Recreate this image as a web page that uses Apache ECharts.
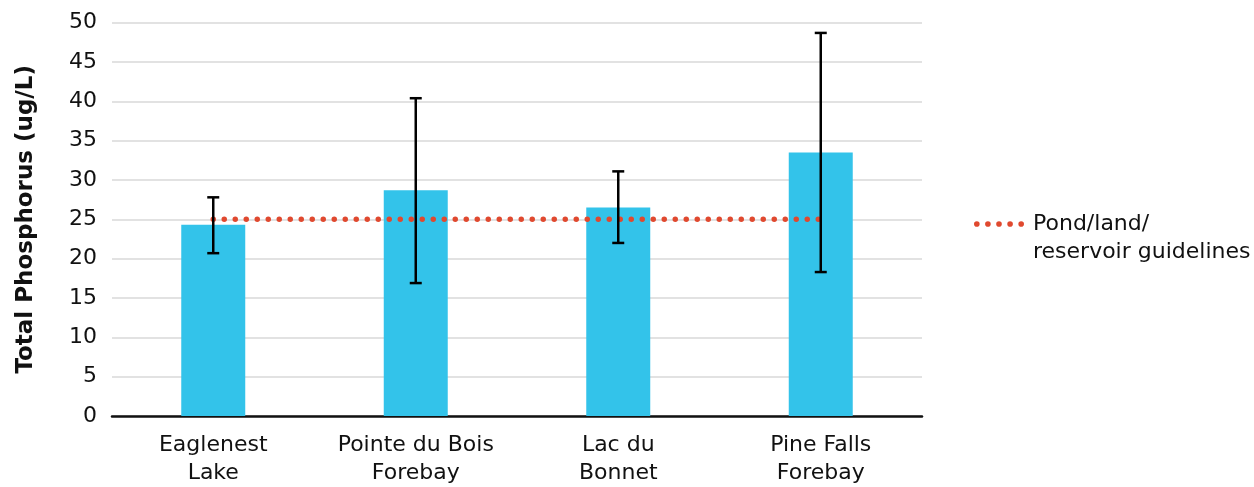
<!DOCTYPE html>
<html style="height: 100%">

<head>
	<meta charset="utf-8">
</head>

<body style="height: 100%; margin: 0; background: #fff">
	<div id="container" style="width: 100%; height: 100%;"></div>

	<script type="text/javascript" src="https://cdn.jsdelivr.net/npm/echarts@6/dist/echarts.min.js"></script>
	<script type="text/javascript">
		const sites = ['Eaglenest\nLake', 'Pointe du Bois\nForebay', 'Lac du\nBonnet', 'Pine Falls\nForebay'];
		const meanTP = [24.3, 28.7, 26.5, 33.5];
		const errLow = [20.7, 16.9, 22.0, 18.3];
		const errHigh = [27.8, 40.4, 31.1, 48.7];
		const guideline = [25, 25, 25, 25];
		const yTicks = { min: 0, max: 50, interval: 5 };

		const font = 'DejaVu Sans';
		const red = '#e0492f';
		let dom = document.getElementById('container');
		let myChart = echarts.init(dom);

		let errData = sites.map((s, i) => [i, errLow[i], errHigh[i]]);

		// five dots for the legend icon
		let dotsPath = 'path://';
		for (let k = 0; k < 5; k++) {
			let cx = 3 + k * 11;
			dotsPath += 'M' + (cx - 2.8) + ',3 a2.8,2.8 0 1,0 5.6,0 a2.8,2.8 0 1,0 -5.6,0 Z ';
		}

		let option = {
			animation: false,
			textStyle: { fontFamily: font },
			grid: { left: 112, right: 332, top: 22.7, bottom: 67, containLabel: false },
			legend: {
				data: [{ name: 'Pond/land/\nreservoir guidelines', icon: dotsPath }],
				left: 969,
				top: 177,
				itemWidth: 50,
				itemHeight: 6,
				formatter: function (name) {
					return ' \n' + name.split('\n').map(s => '{t|' + s + '}').join('\n');
				},
				textStyle: {
					fontFamily: font, fontSize: 22, color: '#111', lineHeight: 28,
					rich: { t: { fontFamily: font, fontSize: 22, color: '#111', lineHeight: 28, padding: [0, 0, 0, 4] } }
				}
			},
			xAxis: {
				type: 'category',
				data: sites,
				axisTick: { show: false },
				axisLine: { lineStyle: { color: '#111', width: 2.5 } },
				axisLabel: { interval: 0, fontFamily: font, fontSize: 22, color: '#111', lineHeight: 28, margin: 15 }
			},
			yAxis: {
				type: 'value',
				min: yTicks.min, max: yTicks.max, interval: yTicks.interval,
				name: 'Total Phosphorus (ug/L)',
				nameLocation: 'middle',
				nameGap: 74,
				nameTextStyle: { fontFamily: font, fontSize: 23, fontWeight: 'bold', color: '#111' },
				axisLine: { show: false },
				axisTick: { show: false },
				axisLabel: { fontFamily: font, fontSize: 22, color: '#111', margin: 15 },
				splitLine: { lineStyle: { color: '#d9d9d9', width: 1.5 } }
			},
			series: [
				{
					name: 'mean',
					type: 'bar',
					data: meanTP,
					barWidth: '31.6%',
					itemStyle: { color: '#33c3ea' }
				},
				{
					name: 'Pond/land/\nreservoir guidelines',
					type: 'line',
					data: guideline,
					symbol: 'none',
					color: red,
					z: 3,
					lineStyle: { color: red, width: 5.5, type: [0, 11], cap: 'round' }
				},
				{
					name: 'error',
					type: 'custom',
					data: errData,
					z: 4,
					renderItem: function (params, api) {
						let x = api.value(0);
						let lo = api.coord([x, api.value(1)]);
						let hi = api.coord([x, api.value(2)]);
						let half = 6;
						let st = { stroke: '#000', lineWidth: 2.5 };
						return {
							type: 'group',
							children: [
								{ type: 'line', shape: { x1: lo[0], y1: lo[1], x2: hi[0], y2: hi[1] }, style: st },
								{ type: 'line', shape: { x1: lo[0] - half, y1: lo[1], x2: lo[0] + half, y2: lo[1] }, style: st },
								{ type: 'line', shape: { x1: hi[0] - half, y1: hi[1], x2: hi[0] + half, y2: hi[1] }, style: st }
							]
						};
					}
				}
			]
		};

		myChart.setOption(option, true);
		window.addEventListener('resize', () => myChart.resize());
	</script>
</body>

</html>
